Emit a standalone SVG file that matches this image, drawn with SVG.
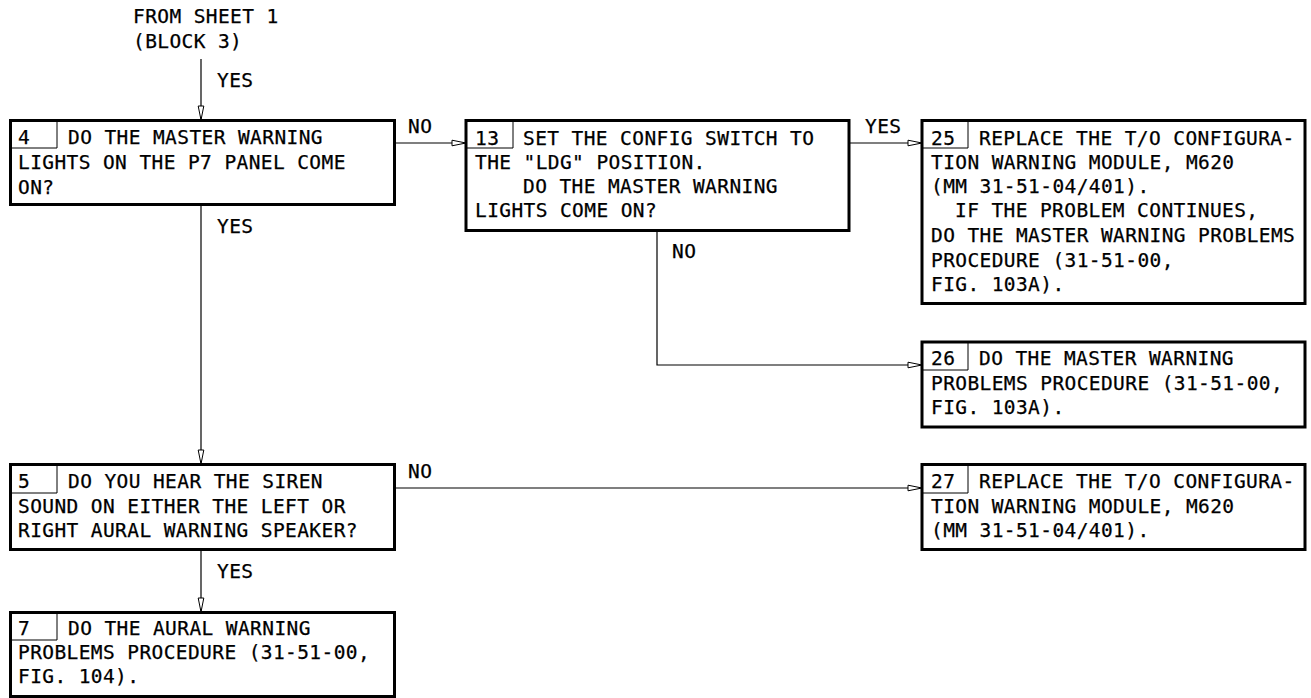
<svg xmlns="http://www.w3.org/2000/svg" width="1311" height="698" viewBox="0 0 1311 698">
<style>
text{font-family:"DejaVu Sans Mono","Liberation Mono",monospace;font-size:19.5px;letter-spacing:0.4px;fill:#000;stroke:#000;stroke-width:0.25}
.box{fill:#fff;stroke:#000;stroke-width:3}
.cell{fill:none;stroke:#000;stroke-width:1}
.conn{fill:none;stroke:#000;stroke-width:1.2}
</style>
<defs>
<marker id="arr" markerUnits="userSpaceOnUse" markerWidth="16" markerHeight="8" viewBox="-1 -4 16 8" refX="14" refY="0" orient="auto">
<path d="M0,-2.8 L14,0 L0,2.8 Z" fill="#fff" stroke="#000" stroke-width="1"/>
</marker>
</defs>
<rect width="1311" height="698" fill="#fff"/>
<g id="start">
<text x="133" y="23">FROM SHEET 1</text>
<text x="133" y="48">(BLOCK 3)</text>
</g>
<g id="connectors">
<path class="conn" d="M201,59 V120" marker-end="url(#arr)"/>
<path class="conn" d="M201,205 V464" marker-end="url(#arr)"/>
<path class="conn" d="M201,549 V612" marker-end="url(#arr)"/>
<path class="conn" d="M395,143 H466" marker-end="url(#arr)"/>
<path class="conn" d="M849,143 H922" marker-end="url(#arr)"/>
<path class="conn" d="M657,230 V365 H922" marker-end="url(#arr)"/>
<path class="conn" d="M395,488 H922" marker-end="url(#arr)"/>
<text x="217" y="87">YES</text>
<text x="217" y="233">YES</text>
<text x="408" y="133">NO</text>
<text x="865" y="133">YES</text>
<text x="672" y="258">NO</text>
<text x="408" y="478">NO</text>
<text x="217" y="578">YES</text>
</g>
<g id="node4">
<rect class="box" x="10.5" y="120.5" width="384" height="84"/>
<path class="cell" d="M57,120 V148 H10"/>
<text x="18" y="144">4</text>
<text x="68" y="144">DO THE MASTER WARNING</text>
<text x="18" y="169">LIGHTS ON THE P7 PANEL COME</text>
<text x="18" y="194">ON?</text>
</g>
<g id="node13">
<rect class="box" x="466" y="120.5" width="383" height="110"/>
<path class="cell" d="M513,120 V148 H466"/>
<text x="475" y="145">13</text>
<text x="523" y="145">SET THE CONFIG SWITCH TO</text>
<text x="475" y="169">THE "LDG" POSITION.</text>
<text x="523" y="193">DO THE MASTER WARNING</text>
<text x="475" y="217">LIGHTS COME ON?</text>
</g>
<g id="node25">
<rect class="box" x="922" y="120.5" width="383" height="183"/>
<path class="cell" d="M968,120 V148 H922"/>
<text x="931" y="145">25</text>
<text x="979" y="145">REPLACE THE T/O CONFIGURA-</text>
<text x="931" y="169">TION WARNING MODULE, M620</text>
<text x="931" y="193">(MM 31-51-04/401).</text>
<text x="955" y="217">IF THE PROBLEM CONTINUES,</text>
<text x="931" y="242">DO THE MASTER WARNING PROBLEMS</text>
<text x="931" y="267">PROCEDURE (31-51-00,</text>
<text x="931" y="291">FIG. 103A).</text>
</g>
<g id="node26">
<rect class="box" x="922" y="342" width="383" height="85"/>
<path class="cell" d="M968,342 V370 H922"/>
<text x="931" y="365">26</text>
<text x="979" y="365">DO THE MASTER WARNING</text>
<text x="931" y="390">PROBLEMS PROCEDURE (31-51-00,</text>
<text x="931" y="414">FIG. 103A).</text>
</g>
<g id="node27">
<rect class="box" x="922" y="464.5" width="383" height="85"/>
<path class="cell" d="M968,464 V493 H922"/>
<text x="931" y="488">27</text>
<text x="979" y="488">REPLACE THE T/O CONFIGURA-</text>
<text x="931" y="513">TION WARNING MODULE, M620</text>
<text x="931" y="537">(MM 31-51-04/401).</text>
</g>
<g id="node5">
<rect class="box" x="10.5" y="464.5" width="384" height="85"/>
<path class="cell" d="M57,464 V493 H10"/>
<text x="18" y="488">5</text>
<text x="68" y="488">DO YOU HEAR THE SIREN</text>
<text x="18" y="513">SOUND ON EITHER THE LEFT OR</text>
<text x="18" y="537">RIGHT AURAL WARNING SPEAKER?</text>
</g>
<g id="node7">
<rect class="box" x="10.5" y="612.5" width="384" height="84"/>
<path class="cell" d="M57,612 V640 H10"/>
<text x="18" y="635">7</text>
<text x="68" y="635">DO THE AURAL WARNING</text>
<text x="18" y="659">PROBLEMS PROCEDURE (31-51-00,</text>
<text x="18" y="683">FIG. 104).</text>
</g>
</svg>
